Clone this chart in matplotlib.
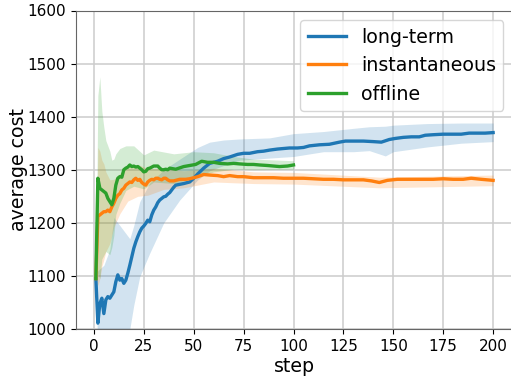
import matplotlib
matplotlib.use("Agg")
import matplotlib.pyplot as plt

# ---- long-term policy ----
lt_steps = list(range(1, 42)) + [45, 48, 50, 52, 55, 58, 62, 65, 68, 72, 75, 78, 82, 85, 88, 92, 95, 98,
                                 102, 105, 108, 113, 118, 123, 126, 130, 135, 140, 144, 148, 151, 155,
                                 159, 163, 166, 170, 175, 180, 184, 188, 192, 196, 200]
lt_cost = [1095, 1011, 1048, 1058, 1029, 1055, 1061, 1058, 1064, 1070,
           1089, 1102, 1092, 1095, 1086, 1092, 1105, 1120, 1136, 1152,
           1164, 1174, 1183, 1190, 1194, 1199, 1205, 1202, 1215, 1224,
           1230, 1238, 1243, 1246, 1249, 1250, 1254, 1257, 1262, 1267, 1271,
           1274, 1277, 1284, 1292, 1303, 1312, 1316, 1321, 1324, 1329, 1331, 1331, 1334, 1335, 1337,
           1339, 1340, 1341, 1341, 1342, 1345, 1347, 1348, 1352, 1354, 1354, 1354, 1353, 1352, 1357,
           1359, 1361, 1362, 1362, 1365, 1366, 1367, 1367, 1367, 1369, 1369, 1369, 1370]
lt_band_steps = [1, 2, 5, 8, 10, 13, 16, 18, 20, 23, 28, 35, 43, 52, 58, 65, 73, 88, 100,
                 115, 130, 138, 146, 150, 167, 184, 200]
lt_low = [1095, 950, 920, 925, 930, 945, 960, 1000, 1045, 1099, 1143, 1200, 1243, 1281, 1298,
          1308, 1318, 1322, 1325, 1334, 1334, 1336, 1326, 1334, 1343, 1350, 1353]
lt_high = [1095, 1110, 1120, 1150, 1210, 1195, 1180, 1170, 1195, 1240, 1275, 1300, 1320, 1342,
           1352, 1356, 1358, 1360, 1368, 1372, 1378, 1381, 1382, 1384, 1387, 1388, 1388]

# ---- instantaneous policy ----
in_steps = list(range(1, 38)) + [38, 40, 43, 46, 48, 50, 52, 55, 58, 62, 65, 68, 72, 75, 80, 85, 90,
                                 95, 100, 105, 110, 115, 120, 125, 130, 135, 139, 143, 147, 152, 158,
                                 164, 170, 175, 180, 185, 189, 194, 200]
in_cost = [1095, 1212, 1215, 1218, 1221, 1221, 1224, 1221, 1230, 1237,
           1246, 1252, 1255, 1262, 1265, 1271, 1274, 1277, 1276, 1281,
           1284, 1280, 1282, 1276, 1273, 1271, 1277, 1280, 1282, 1281,
           1284, 1284, 1282, 1281, 1284, 1284, 1281,
           1279, 1279, 1282, 1282, 1283, 1285, 1287, 1291, 1290, 1289, 1287, 1289, 1287, 1287, 1285,
           1285, 1285, 1284, 1284, 1284, 1283, 1282, 1282, 1281, 1281, 1281, 1279, 1276, 1280, 1282,
           1282, 1282, 1282, 1283, 1282, 1282, 1284, 1282, 1280]
in_band_steps = [1, 2, 3, 4, 5, 6, 8, 10, 13, 17, 22, 27, 35, 45, 60, 80, 100, 143, 200]
in_low = [1095, 1082, 1095, 1118, 1131, 1146, 1161, 1192, 1217, 1241, 1250, 1252, 1263, 1266,
          1277, 1274, 1273, 1266, 1270]
in_high = [1095, 1342, 1335, 1318, 1311, 1296, 1281, 1282, 1293, 1307, 1310, 1302, 1303, 1298,
           1303, 1296, 1295, 1286, 1290]

# ---- offline policy ----
off_steps = list(range(1, 39)) + [41, 45, 48, 51, 54, 57, 60, 63, 67, 70, 73, 77, 80, 83, 87, 90,
                                  93, 97, 100]
off_cost = [1095, 1284, 1265, 1262, 1259, 1256, 1246, 1240, 1234, 1246,
            1271, 1284, 1287, 1286, 1300, 1303, 1305, 1309, 1306, 1307,
            1305, 1306, 1303, 1300, 1296, 1297, 1302, 1303, 1305, 1307,
            1307, 1307, 1303, 1300, 1300, 1301, 1300, 1303,
            1301, 1306, 1308, 1310, 1316, 1314, 1314, 1312, 1311, 1312, 1311, 1310, 1310, 1309,
            1308, 1307, 1306, 1307, 1309]
off_band_steps = [1, 2, 3, 4, 5, 6, 8, 9, 10, 11, 13, 16, 20, 25, 30, 40, 50, 60, 70, 80, 100]
off_low = [1095, 1104, 1095, 1132, 1139, 1146, 1140, 1154, 1176, 1216, 1237, 1261, 1269, 1264,
           1277, 1274, 1284, 1296, 1301, 1300, 1301]
off_high = [1095, 1440, 1475, 1410, 1380, 1355, 1335, 1318, 1320, 1330, 1340, 1345, 1345, 1328,
            1337, 1330, 1334, 1332, 1325, 1320, 1317]

series = [
    ("long-term", lt_steps, lt_cost, lt_band_steps, lt_low, lt_high, "#1f77b4"),
    ("instantaneous", in_steps, in_cost, in_band_steps, in_low, in_high, "#ff7f0e"),
    ("offline", off_steps, off_cost, off_band_steps, off_low, off_high, "#2ca02c"),
]

fig = plt.figure(figsize=(5.11, 3.79), dpi=100)
ax = fig.add_axes([76 / 511, 50 / 379, 437 / 511, 318.5 / 379])

for name, xs, ys, bx, lo, hi, color in series:
    ax.fill_between(bx, lo, hi, color=color, alpha=0.2, linewidth=0)
    ax.plot(xs, ys, color=color, linewidth=2.4, label=name)

ax.set_ylim(1000, 1600)
ax.set_xlim(-8.95, 209.95)
ax.set_xticks(range(0, 201, 25))
ax.set_yticks(range(1000, 1601, 100))
ax.grid(True, color="#cccccc", linewidth=1.1)
ax.set_axisbelow(True)
ax.tick_params(labelsize=11)
ax.set_xlabel("step", fontsize=13.7, labelpad=2)
ax.set_ylabel("average cost", fontsize=13.7, labelpad=0)
for s in ax.spines.values():
    s.set_color("#666666")
ax.legend(loc="upper right", fontsize=13.7)

fig.savefig("out.png", dpi=100)
